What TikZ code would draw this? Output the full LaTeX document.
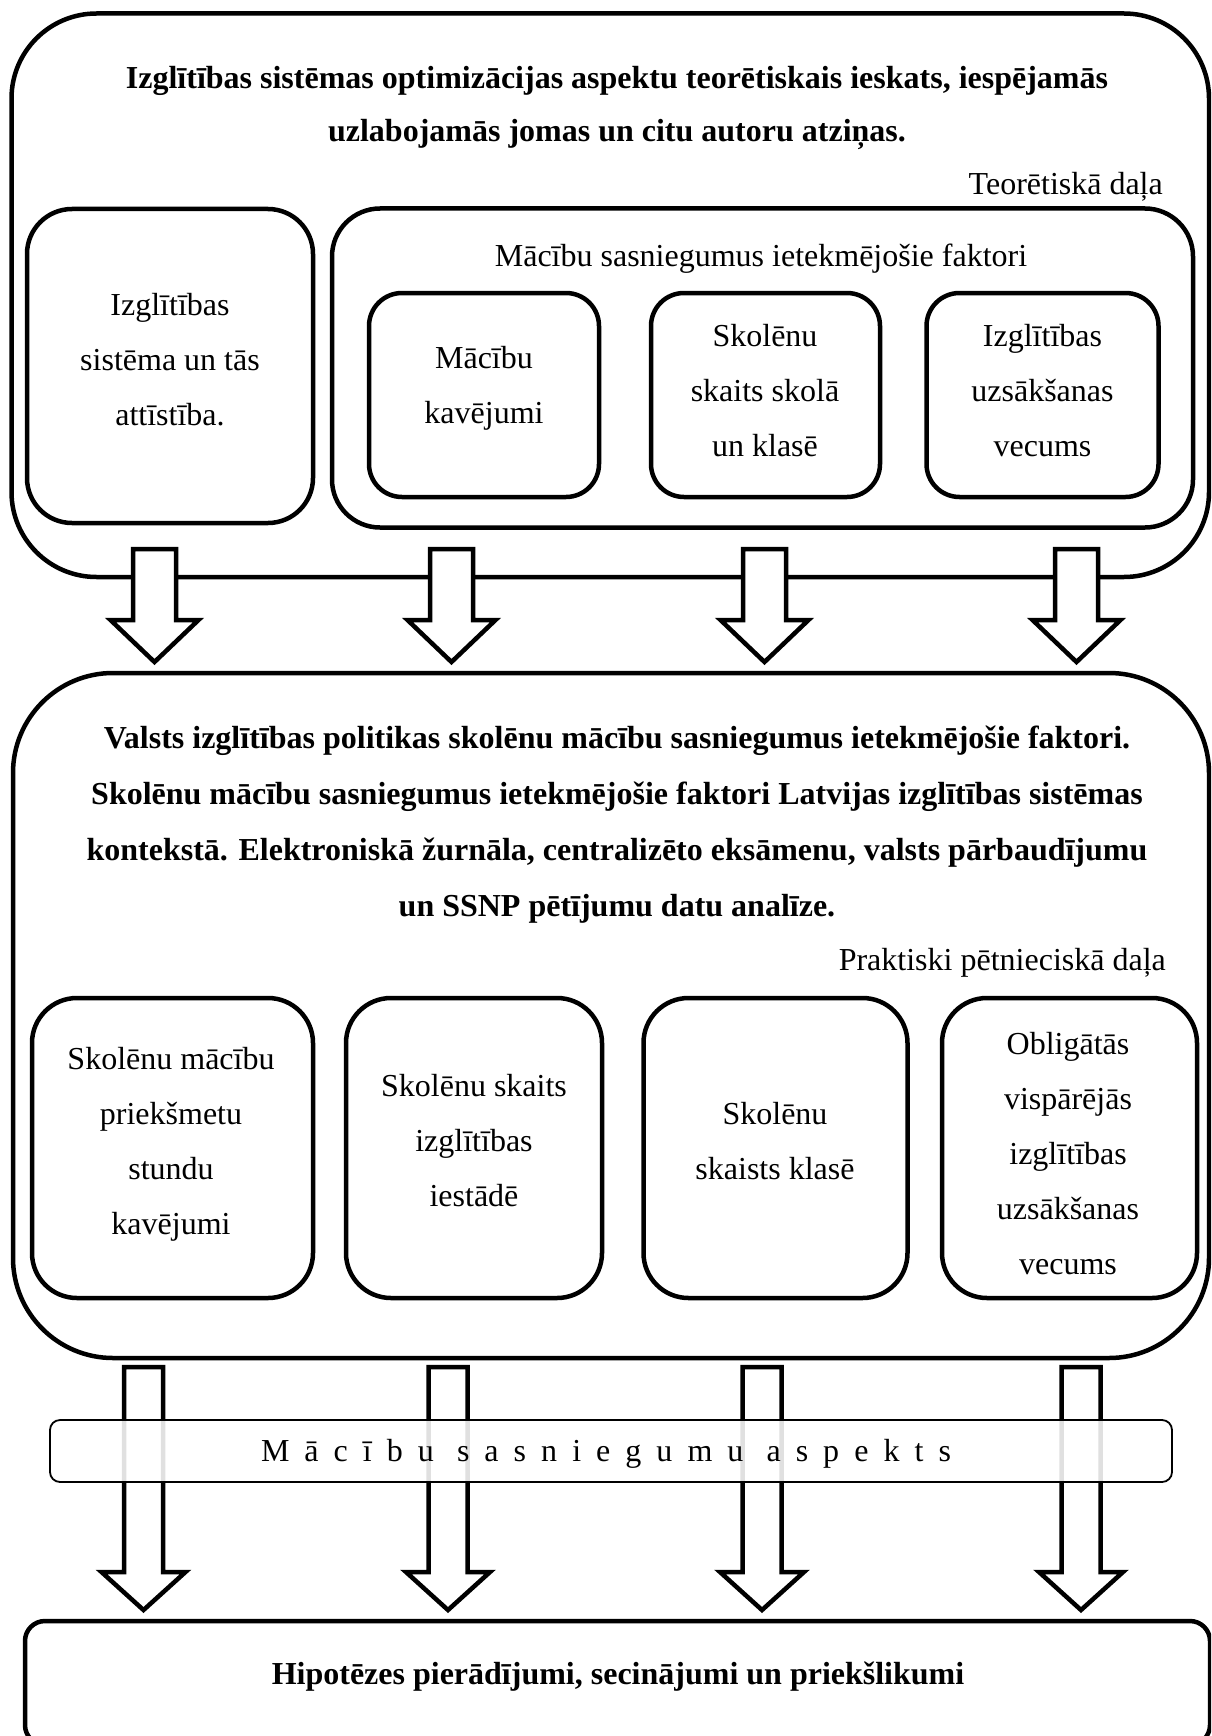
\documentclass[tikz,border=0pt]{standalone}
\usepackage{fontspec}
\setmainfont{Liberation Serif}
\usetikzlibrary{positioning}

\begin{document}
\begin{tikzpicture}[x=1pt, y=-1pt]
\tikzset{
  frame/.style={draw, line width=4.5pt, rounded corners=#1, inner sep=0pt},
  frame/.default=45,
  txt/.style={align=center, inner sep=0pt, font=\fontsize{32}{55}\selectfont},
  headtxt/.style={txt, font=\fontsize{32}{#1}\selectfont\bfseries},
  headtxt/.default=55,
  blockarrow/.style={draw, fill=white, line width=4.5pt},
  band/.style={draw, line width=1.8pt, rounded corners=10, fill=white, fill opacity=0.88, text opacity=1, inner sep=0pt}
}
\useasboundingbox (0,0) rectangle (1211,1736);
\clip (0,0) rectangle (1211,1736);

% Theoretical part
\node[frame=85, minimum width=1197.5, minimum height=563.5] (teor) at (610.25,295.25) {};
\node[headtxt=53] (teortitle) at (617,107.5) {Izglītības sistēmas optimizācijas aspektu teorētiskais ieskats, iespējamās\\ uzlabojamās jomas un citu autoru atziņas.};
\node[txt, anchor=east] (teorlabel) at (1163,186.5) {Teorētiskā daļa};

\node[frame, minimum width=286, minimum height=314] (sys) at (170,366) {};
\node[txt] (systxt) at (170,360) {Izglītības\\ sistēma un tās\\ attīstība.};

\node[frame=48, minimum width=861, minimum height=319] (fact) at (762.5,368) {};
\node[txt] (facttxt) at (761,259) {Mācību sasniegumus ietekmējošie faktori};

\node[frame=33, minimum width=230, minimum height=204] (abs) at (484,395) {};
\node[txt] (abstxt) at (484,388) {Mācību\\ kavējumi};
\node[frame=33, minimum width=229, minimum height=204] (num) at (765.5,395) {};
\node[txt] (numtxt) at (765,391) {Skolēnu\\ skaits skolā\\ un klasē};
\node[frame=33, minimum width=232, minimum height=204] (age) at (1042.5,395) {};
\node[txt] (agetxt) at (1042.5,391) {Izglītības\\ uzsākšanas\\ vecums};

% Practical part
\node[frame=100, minimum width=1196, minimum height=685] (prak) at (611,1015.5) {};
\node[headtxt=56] (praktitle) at (617,824.5) {Valsts izglītības politikas skolēnu mācību sasniegumus ietekmējošie faktori.\\ Skolēnu mācību sasniegumus ietekmējošie faktori Latvijas izglītības sistēmas\\ kontekstā. Elektroniskā žurnāla, centralizēto eksāmenu, valsts pārbaudījumu\\ un SSNP pētījumu datu analīze.};
\node[txt, anchor=east] (praklabel) at (1166,963) {Praktiski pētnieciskā daļa};

\node[frame, minimum width=281, minimum height=300] (pabs) at (172.5,1148) {};
\node[txt] (pabstxt) at (171,1144) {Skolēnu mācību\\ priekšmetu\\ stundu\\ kavējumi};
\node[frame, minimum width=256, minimum height=300] (pschool) at (474,1148) {};
\node[txt] (pschooltxt) at (474,1141) {Skolēnu skaits\\ izglītības\\ iestādē};
\node[frame, minimum width=264, minimum height=300] (pclass) at (775.5,1148) {};
\node[txt] (pclasstxt) at (775,1141) {Skolēnu\\ skaists klasē};
\node[frame, minimum width=255, minimum height=300] (page) at (1069.5,1148) {};
\node[txt] (pagetxt) at (1068,1154) {Obligātās\\ vispārējās\\ izglītības\\ uzsākšanas\\ vecums};

% Conclusions
\node[frame=20, minimum width=1185, minimum height=124] (concl) at (617.5,1683) {};
\node[headtxt] (concltxt) at (618,1677) {Hipotēzes pierādījumi, secinājumi un priekšlikumi};

% Arrows theory -> practice
\foreach \x in {154.5,451.5,764.5,1076.5}
  \draw[blockarrow] (\x-21.5,549) -- (\x+21.5,549) -- (\x+21.5,620) -- (\x+44,620)
    -- (\x,662) -- (\x-44,620) -- (\x-21.5,620) -- cycle;

% Arrows practice -> conclusions
\foreach \x in {143.5,448,762,1081}
  \draw[blockarrow] (\x-19.5,1367) -- (\x+19.5,1367) -- (\x+19.5,1572) -- (\x+42,1572)
    -- (\x,1610) -- (\x-42,1572) -- (\x-19.5,1572) -- cycle;

\node[band, minimum width=1122, minimum height=62] (aspect) at (611,1451) {};
\node[txt] (aspecttxt) at (606,1454) {\addfontfeature{LetterSpace=47}Mācību sasniegumu aspekts};
\end{tikzpicture}
\end{document}
